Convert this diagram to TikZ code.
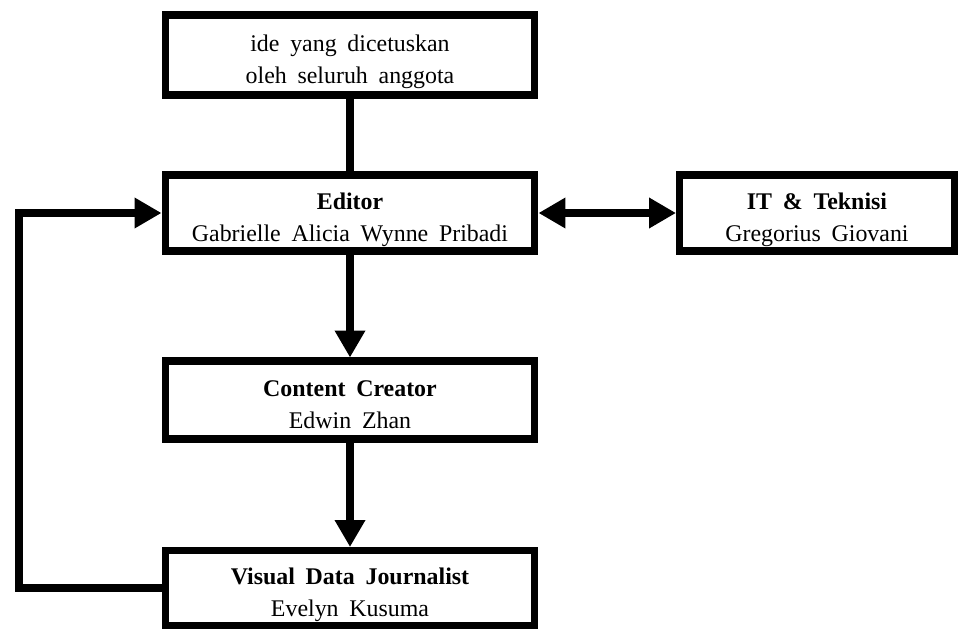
\documentclass[tikz,border=0pt]{standalone}
\usepackage{fontspec}
\setmainfont{Liberation Serif}[WordSpace=1.8]
\usepackage{tikz}
\usetikzlibrary{arrows.meta}

\newcommand{\boxtext}[2]{\raisebox{-0.12cm}[\height][\depth]{\begin{tabular}{c}#1\\#2\end{tabular}}}

\tikzset{
  box/.style={draw, line width=4pt, inner sep=0pt,
    font=\fontsize{13.6}{18.4}\selectfont},
  link/.style={line width=5pt},
  arr/.style={link, -{Triangle[length=0.54cm,width=0.58cm]}},
  dblarr/.style={link, {Triangle[length=0.54cm,width=0.58cm]}-{Triangle[length=0.54cm,width=0.58cm]}}
}

\begin{document}
\begin{tikzpicture}[x=0.02cm,y=-0.02cm]
\useasboundingbox (0,0) rectangle (964,629);

\node (ide) [box, minimum width=7.4cm, minimum height=1.6cm] at (350,55) {\boxtext{ide yang dicetuskan}{oleh seluruh anggota}};
\node (editor) [box, minimum width=7.4cm, minimum height=1.52cm] at (350,213) {\boxtext{\textbf{Editor}}{Gabrielle Alicia Wynne Pribadi}};
\node (it) [box, minimum width=5.5cm, minimum height=1.52cm] at (817,213) {\boxtext{\textbf{IT \& Teknisi}}{Gregorius Giovani}};
\node (content) [box, minimum width=7.4cm, minimum height=1.56cm] at (350,400) {\boxtext{\textbf{Content Creator}}{Edwin Zhan}};
\node (visual) [box, minimum width=7.4cm, minimum height=1.5cm] at (350,588) {\boxtext{\textbf{Visual Data Journalist}}{Evelyn Kusuma}};

\coordinate (bend) at (19,589);

\draw [link] (ide) -- (editor);
\draw [arr] (editor) -- (content);
\draw [arr] (content) -- (visual);
\draw [dblarr] (editor) -- (it);
\draw [arr] (visual.west) -- (visual.west -| bend) |- (editor.west);
\end{tikzpicture}
\end{document}
